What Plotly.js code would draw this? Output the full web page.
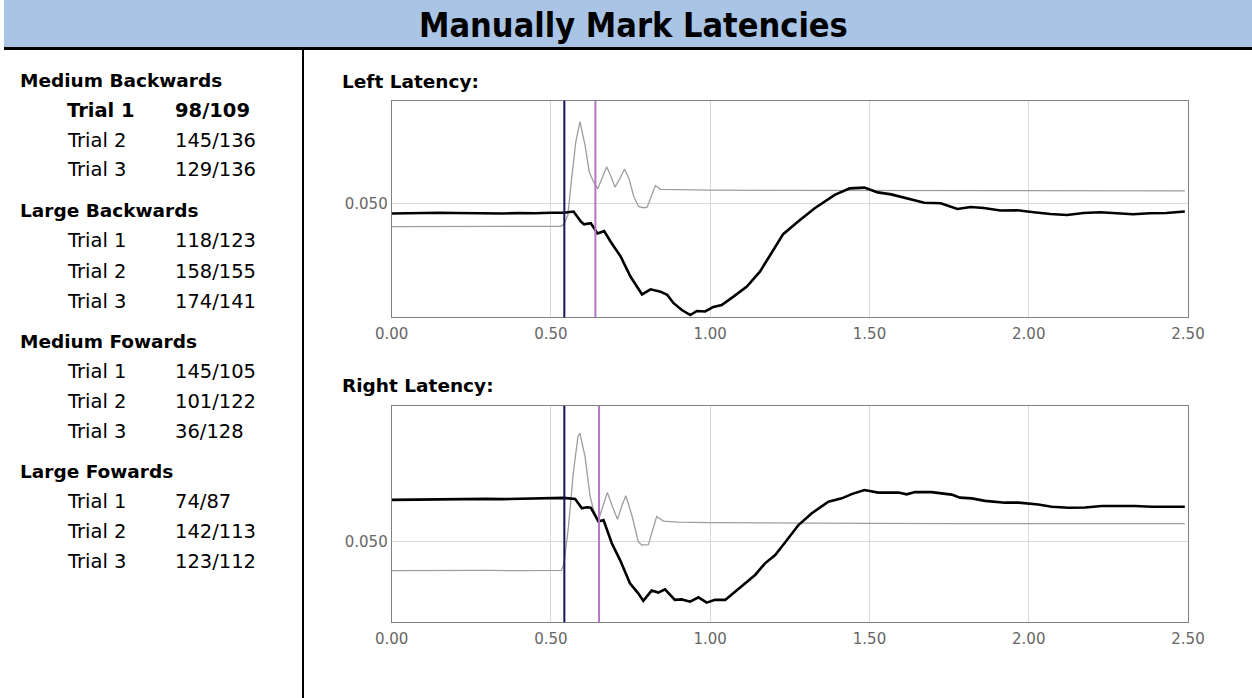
<!DOCTYPE html>
<html>
<head>
<meta charset="utf-8">
<script src="https://cdn.plot.ly/plotly-3.0.1.min.js"></script>
<style>
  html, body { margin: 0; padding: 0; background: #ffffff; }
  #chart { width: 1252px; height: 698px; }
</style>
</head>
<body>
<div id="chart"></div>
<script>
// ---------- data ----------
const pageTitle = "Manually Mark Latencies";
const groupNames = ["Medium Backwards", "Large Backwards", "Medium Fowards", "Large Fowards"];
const trialNames = ["Trial 1", "Trial 2", "Trial 3"];
const trialValues = [
  ["98/109", "145/136", "129/136"],
  ["118/123", "158/155", "174/141"],
  ["145/105", "101/122", "36/128"],
  ["74/87", "142/113", "123/112"]
];
const selectedGroup = 0, selectedTrial = 0;

const panelTitles = ["Left Latency:", "Right Latency:"];
const xTicks = [0, 0.5, 1.0, 1.5, 2.0, 2.5];
const yTicks = [0.05];

// left (top) chart
const leftGrayX = [0, 0.1, 0.2, 0.3, 0.4, 0.5, 0.531, 0.541, 0.553, 0.565, 0.578, 0.591, 0.607, 0.62, 0.633, 0.647, 0.66, 0.675, 0.688, 0.701, 0.716, 0.731, 0.745, 0.76, 0.775, 0.79, 0.802, 0.815, 0.828, 0.844, 0.9, 1.0, 1.2, 1.5, 1.8, 2.0, 2.2, 2.49];
const leftGrayY = [0.0410, 0.0410, 0.0409, 0.0410, 0.0411, 0.0410, 0.0411, 0.0420, 0.0456, 0.0602, 0.0747, 0.0827, 0.0734, 0.0628, 0.0589, 0.0560, 0.0600, 0.0648, 0.0610, 0.0567, 0.0600, 0.0639, 0.0600, 0.0530, 0.0490, 0.0485, 0.0487, 0.0530, 0.0573, 0.0558, 0.0556, 0.0555, 0.0554, 0.0553, 0.0552, 0.0553, 0.0552, 0.0552];
const leftBlackX = [0, 0.05, 0.1, 0.15, 0.2, 0.25, 0.3, 0.35, 0.4, 0.45, 0.5, 0.54, 0.571, 0.594, 0.604, 0.625, 0.646, 0.667, 0.6875, 0.719, 0.75, 0.786, 0.8125, 0.844, 0.865, 0.885, 0.911, 0.9375, 0.958, 0.984, 1.01, 1.036, 1.073, 1.115, 1.156, 1.193, 1.229, 1.276, 1.328, 1.391, 1.438, 1.484, 1.526, 1.568, 1.630, 1.672, 1.724, 1.776, 1.818, 1.859, 1.911, 1.964, 2.016, 2.068, 2.12, 2.172, 2.224, 2.276, 2.328, 2.38, 2.432, 2.49];
const leftBlackY = [0.0462, 0.0464, 0.0463, 0.0465, 0.0464, 0.0463, 0.0465, 0.0462, 0.0464, 0.0463, 0.0465, 0.0465, 0.0470, 0.0430, 0.0419, 0.0424, 0.0383, 0.0392, 0.0350, 0.0291, 0.0211, 0.0141, 0.0161, 0.0152, 0.0139, 0.0106, 0.0079, 0.0059, 0.0075, 0.0073, 0.0091, 0.0099, 0.0132, 0.0172, 0.0231, 0.0304, 0.0380, 0.0430, 0.0483, 0.0536, 0.0562, 0.0565, 0.0546, 0.0538, 0.0520, 0.0505, 0.0503, 0.0480, 0.0488, 0.0484, 0.0474, 0.0475, 0.0467, 0.0460, 0.0456, 0.0464, 0.0467, 0.0463, 0.0459, 0.0463, 0.0464, 0.0470];
const leftMarks = [0.542, 0.6395];   // onset (navy), peak (purple)

// right (bottom) chart
const rightGrayX = [0, 0.1, 0.2, 0.3, 0.4, 0.5, 0.533, 0.541, 0.555, 0.57, 0.585, 0.591, 0.607, 0.623, 0.634, 0.649, 0.663, 0.677, 0.693, 0.709, 0.722, 0.735, 0.755, 0.774, 0.785, 0.806, 0.82, 0.832, 0.853, 0.9, 1.0, 1.2, 1.5, 1.8, 2.0, 2.2, 2.49];
const rightGrayY = [0.0385, 0.0386, 0.0385, 0.0386, 0.0385, 0.0386, 0.0386, 0.0414, 0.0560, 0.0772, 0.0920, 0.0930, 0.0838, 0.0679, 0.0626, 0.0586, 0.0640, 0.0695, 0.0640, 0.0589, 0.0640, 0.0683, 0.0600, 0.0500, 0.0487, 0.0488, 0.0550, 0.0600, 0.0582, 0.0578, 0.0576, 0.0574, 0.0573, 0.0572, 0.0572, 0.0572, 0.0572];
const rightBlackX = [0, 0.05, 0.1, 0.15, 0.2, 0.25, 0.3, 0.35, 0.4, 0.45, 0.5, 0.54, 0.576, 0.597, 0.612, 0.625, 0.649, 0.665, 0.691, 0.717, 0.748, 0.774, 0.79, 0.816, 0.837, 0.858, 0.889, 0.91, 0.937, 0.963, 0.989, 1.015, 1.047, 1.078, 1.11, 1.141, 1.172, 1.204, 1.235, 1.277, 1.319, 1.371, 1.413, 1.444, 1.484, 1.528, 1.591, 1.617, 1.643, 1.695, 1.758, 1.784, 1.821, 1.863, 1.926, 1.968, 2.03, 2.072, 2.125, 2.177, 2.229, 2.282, 2.334, 2.386, 2.439, 2.49];
const rightBlackY = [0.0666, 0.0667, 0.0667, 0.0668, 0.0668, 0.0669, 0.0670, 0.0669, 0.0670, 0.0671, 0.0671, 0.0674, 0.0670, 0.0633, 0.0637, 0.0635, 0.0580, 0.0586, 0.0494, 0.0427, 0.0335, 0.0295, 0.0265, 0.0306, 0.0298, 0.0311, 0.0269, 0.0271, 0.0262, 0.0279, 0.0258, 0.0269, 0.0269, 0.0302, 0.0335, 0.0368, 0.0414, 0.0447, 0.0497, 0.0566, 0.0613, 0.0659, 0.0672, 0.0689, 0.0705, 0.0695, 0.0695, 0.0688, 0.0697, 0.0697, 0.0687, 0.0675, 0.0672, 0.0662, 0.0655, 0.0655, 0.0648, 0.0639, 0.0635, 0.0636, 0.0642, 0.0642, 0.0642, 0.0639, 0.0640, 0.0639];
const rightMarks = [0.542, 0.651];

// ---------- layout helpers ----------
const W = 1252, H = 698;
const px = v => v / W;
const py = v => 1 - v / H;
const FONT = "DejaVu Sans, Verdana, sans-serif";
const TITLE_FONT = "DejaVu Sans Condensed, DejaVu Sans, sans-serif";

const grayLine = {color: "#9d9d9d", width: 1.3};
const blackLine = {color: "#000000", width: 2.6};

const traces = [
  {x: leftGrayX, y: leftGrayY, xaxis: "x", yaxis: "y", mode: "lines", line: grayLine, hoverinfo: "skip"},
  {x: leftBlackX, y: leftBlackY, xaxis: "x", yaxis: "y", mode: "lines", line: blackLine, hoverinfo: "skip"},
  {x: rightGrayX, y: rightGrayY, xaxis: "x2", yaxis: "y2", mode: "lines", line: grayLine, hoverinfo: "skip"},
  {x: rightBlackX, y: rightBlackY, xaxis: "x2", yaxis: "y2", mode: "lines", line: blackLine, hoverinfo: "skip"}
];

const annotations = [];
annotations.push({
  text: "<b>" + pageTitle + "</b>", xref: "paper", yref: "paper",
  x: px(633), y: py(25), xanchor: "center", yanchor: "middle", showarrow: false,
  font: {family: TITLE_FONT, size: 34, color: "#000"}
});
const groupTops = [80, 211, 341, 471];
groupNames.forEach((g, gi) => {
  annotations.push({
    text: "<b>" + g + "</b>", xref: "paper", yref: "paper",
    x: px(18), y: py(groupTops[gi]), xanchor: "left", yanchor: "middle", showarrow: false,
    font: {family: FONT, size: 18.5, color: "#000"}
  });
  trialNames.forEach((t, ti) => {
    const sel = gi === selectedGroup && ti === selectedTrial;
    const yy = groupTops[gi] + 30 * (ti + 1);
    annotations.push({
      text: sel ? "<b>" + t + "</b>" : t, xref: "paper", yref: "paper",
      x: px(65), y: py(yy), xanchor: "left", yanchor: "middle", showarrow: false,
      font: {family: FONT, size: 19.5, color: "#000"}
    });
    annotations.push({
      text: sel ? "<b>" + trialValues[gi][ti] + "</b>" : trialValues[gi][ti], xref: "paper", yref: "paper",
      x: px(173), y: py(yy), xanchor: "left", yanchor: "middle", showarrow: false,
      font: {family: FONT, size: 19.5, color: "#000"}
    });
  });
});
[[panelTitles[0], 82], [panelTitles[1], 385]].forEach(([t, yy]) => {
  annotations.push({
    text: "<b>" + t + "</b>", xref: "paper", yref: "paper",
    x: px(340), y: py(yy), xanchor: "left", yanchor: "middle", showarrow: false,
    font: {family: FONT, size: 18.5, color: "#000"}
  });
});

const shapes = [
  // header band
  {type: "rect", xref: "paper", yref: "paper", x0: px(4), x1: 1, y0: py(47), y1: 1,
   fillcolor: "#a9c4e5", line: {width: 0}, layer: "below"},
  {type: "rect", xref: "paper", yref: "paper", x0: px(4), x1: 1, y0: py(50), y1: py(47),
   fillcolor: "#000", line: {width: 0}},
  // divider
  {type: "rect", xref: "paper", yref: "paper", x0: px(302), x1: px(304), y0: 0, y1: py(50),
   fillcolor: "#000", line: {width: 0}},
  // latency markers
  {type: "line", xref: "x", yref: "y domain", x0: leftMarks[0], x1: leftMarks[0], y0: 0, y1: 1, line: {color: "#14145e", width: 2}},
  {type: "line", xref: "x", yref: "y domain", x0: leftMarks[1], x1: leftMarks[1], y0: 0, y1: 1, line: {color: "#b475c9", width: 2}},
  {type: "line", xref: "x2", yref: "y2 domain", x0: rightMarks[0], x1: rightMarks[0], y0: 0, y1: 1, line: {color: "#14145e", width: 2}},
  {type: "line", xref: "x2", yref: "y2 domain", x0: rightMarks[1], x1: rightMarks[1], y0: 0, y1: 1, line: {color: "#b475c9", width: 2}}
];

const xAxisBase = {
  range: [0, 2.5], tickvals: xTicks, tickformat: ".2f",
  showgrid: true, gridcolor: "#d9d9d9", gridwidth: 1,
  showline: true, mirror: true, linecolor: "#808080", linewidth: 1,
  zeroline: false, ticks: "outside", ticklen: 3, tickcolor: "rgba(0,0,0,0)",
  tickfont: {family: FONT, size: 15, color: "#666"}, fixedrange: true
};
const yAxisBase = {
  tickvals: yTicks, tickformat: ".3f",
  showgrid: true, gridcolor: "#d9d9d9", gridwidth: 1,
  showline: true, mirror: true, linecolor: "#808080", linewidth: 1,
  zeroline: false, ticks: "",
  tickfont: {family: FONT, size: 15, color: "#666"}, fixedrange: true
};

const xDomain = [px(391.7), px(1188)];
const layout = {
  width: W, height: H,
  margin: {l: 0, r: 0, t: 0, b: 0, pad: 0},
  paper_bgcolor: "#ffffff", plot_bgcolor: "#ffffff",
  showlegend: false,
  font: {family: FONT},
  xaxis: Object.assign({}, xAxisBase, {domain: xDomain, anchor: "y"}),
  yaxis: Object.assign({}, yAxisBase, {domain: [py(317.3), py(100.7)], range: [0.005, 0.091], anchor: "x"}),
  xaxis2: Object.assign({}, xAxisBase, {domain: xDomain, anchor: "y2"}),
  yaxis2: Object.assign({}, yAxisBase, {domain: [py(622.3), py(405.7)], range: [0.018, 0.104], anchor: "x2"}),
  annotations: annotations,
  shapes: shapes
};

Plotly.newPlot("chart", traces, layout, {displayModeBar: false, staticPlot: true});
</script>
</body>
</html>
